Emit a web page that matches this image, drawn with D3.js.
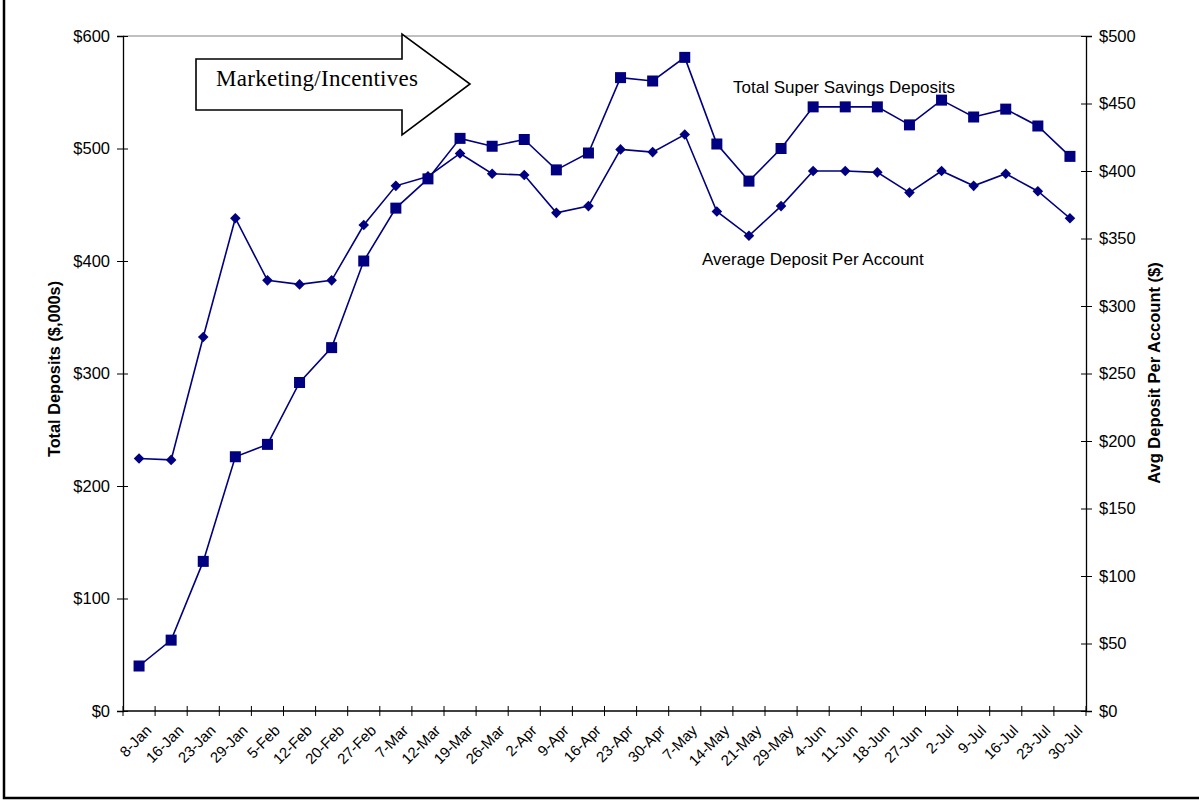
<!DOCTYPE html>
<html>
<head>
<meta charset="utf-8">
<script src="https://cdn.jsdelivr.net/npm/d3@7"></script>
<style>
  body { margin: 0; background: #fff; }
  svg { display: block; }
  .tick text { font-family: "Liberation Sans", Arial, sans-serif; }
</style>
</head>
<body>
<div id="chart"></div>
<script>
// weekly dates
var weeks = ["8-Jan", "16-Jan", "23-Jan", "29-Jan", "5-Feb", "12-Feb", "20-Feb", "27-Feb",
    "7-Mar", "12-Mar", "19-Mar", "26-Mar", "2-Apr", "9-Apr", "16-Apr", "23-Apr", "30-Apr",
    "7-May", "14-May", "21-May", "29-May", "4-Jun", "11-Jun", "18-Jun", "27-Jun", "2-Jul",
    "9-Jul", "16-Jul", "23-Jul", "30-Jul"];

// Total Super Savings Deposits ($,000s) - left axis
var totalDeposits = [40, 63, 133, 226, 237, 292, 323, 400, 447, 473, 509, 502, 508, 481,
    496, 563, 560, 581, 504, 471, 500, 537, 537, 537, 521, 543, 528, 535, 520, 493];

// Average Deposit Per Account ($) - right axis
var avgDeposit = [187, 186, 277, 365, 319, 316, 319, 360, 389, 396, 413, 398, 397, 369,
    374, 416, 414, 427, 370, 352, 374, 400, 400, 399, 384, 400, 389, 398, 385, 365];

var leftTicks = [0, 100, 200, 300, 400, 500, 600];
var rightTicks = [0, 50, 100, 150, 200, 250, 300, 350, 400, 450, 500];

var W = 1199, H = 804;
var margin = { top: 36, right: 113, bottom: 93, left: 123 },
    width = W - margin.left - margin.right,
    height = H - margin.top - margin.bottom;

var navy = "#000080";
var sans = "'Liberation Sans', Arial, sans-serif";

var svg = d3.select("#chart")
    .append("svg")
    .attr("width", W)
    .attr("height", H);

// outer frame
svg.append("rect")
    .attr("x", 4).attr("y", -4)
    .attr("width", W + 4).attr("height", 802)
    .attr("fill", "none")
    .attr("stroke", "#000")
    .attr("stroke-width", 2.5);

var g = svg.append("g")
    .attr("transform", "translate(" + margin.left + "," + margin.top + ")");

var x = d3.scaleBand()
    .domain(weeks)
    .range([0, width])
    .padding(0);

var yL = d3.scaleLinear().domain([0, 600]).range([height, 0]);
var yR = d3.scaleLinear().domain([0, 500]).range([height, 0]);

// top border of plot area
g.append("line")
    .attr("x1", 0).attr("x2", width)
    .attr("y1", 0).attr("y2", 0)
    .attr("stroke", "#808080");

// left axis
var axL = g.append("g")
    .call(d3.axisLeft(yL).tickValues(leftTicks).tickSize(6).tickPadding(7)
        .tickFormat(function (d) { return "$" + d; }));
axL.selectAll(".tick line").attr("x2", -6).attr("x1", 5);
// right axis
var axR = g.append("g")
    .attr("transform", "translate(" + width + ",0)")
    .call(d3.axisRight(yR).tickValues(rightTicks).tickSize(6).tickPadding(7)
        .tickFormat(function (d) { return "$" + d; }));
axR.selectAll(".tick line").attr("x1", -5).attr("x2", 6);

[axL, axR].forEach(function (ax) {
    ax.select(".domain").attr("stroke", "#000").attr("stroke-width", 1.3);
    ax.selectAll(".tick line").attr("stroke", "#000");
    ax.selectAll(".tick text").attr("font-size", 16.5).attr("fill", "#000");
});

// bottom axis: ticks at band boundaries, labels at centres
var axB = g.append("g").attr("transform", "translate(0," + height + ")");
axB.append("line")
    .attr("x1", 0).attr("x2", width)
    .attr("stroke", "#000").attr("stroke-width", 1.3);
var bounds = weeks.map(function (d) { return x(d); }).concat([width]);
axB.selectAll("line.tk")
    .data(bounds)
    .enter()
    .append("line")
    .attr("class", "tk")
    .attr("x1", function (d) { return d; })
    .attr("x2", function (d) { return d; })
    .attr("y1", -5).attr("y2", 5)
    .attr("stroke", "#000");
axB.selectAll("text")
    .data(weeks)
    .enter()
    .append("text")
    .attr("transform", function (d) {
        return "translate(" + (x(d) + x.bandwidth() / 2 + 6) + ",13)rotate(-45)";
    })
    .attr("text-anchor", "end")
    .attr("dy", "0.7em")
    .attr("font-family", sans)
    .attr("font-size", 15)
    .text(function (d) { return d; });

// axis titles
svg.append("text")
    .attr("transform", "translate(60,369)rotate(-90)")
    .attr("text-anchor", "middle")
    .attr("font-family", sans)
    .attr("font-weight", "bold")
    .attr("font-size", 16.3)
    .text("Total Deposits ($,000s)");
svg.append("text")
    .attr("transform", "translate(1160,373)rotate(-90)")
    .attr("text-anchor", "middle")
    .attr("font-family", sans)
    .attr("font-weight", "bold")
    .attr("font-size", 16.5)
    .text("Avg Deposit Per Account ($)");

var cx = function (d, i) { return x(weeks[i]) + x.bandwidth() / 2; };

// average deposit line (diamonds)
g.append("path")
    .datum(avgDeposit)
    .attr("fill", "none")
    .attr("stroke", navy)
    .attr("stroke-width", 1.6)
    .attr("d", d3.line().x(cx).y(function (d) { return yR(d); }));
g.append("g")
    .selectAll("path")
    .data(avgDeposit)
    .enter()
    .append("path")
    .attr("d", d3.symbol().type(d3.symbolSquare).size(56))
    .attr("transform", function (d, i) {
        return "translate(" + cx(d, i) + "," + yR(d) + ")rotate(45)";
    })
    .attr("fill", navy);

// total deposits line (squares)
g.append("path")
    .datum(totalDeposits)
    .attr("fill", "none")
    .attr("stroke", navy)
    .attr("stroke-width", 1.6)
    .attr("d", d3.line().x(cx).y(function (d) { return yL(d); }));
g.append("g")
    .selectAll("rect")
    .data(totalDeposits)
    .enter()
    .append("rect")
    .attr("x", function (d, i) { return cx(d, i) - 5.5; })
    .attr("y", function (d) { return yL(d) - 5.5; })
    .attr("width", 11)
    .attr("height", 11)
    .attr("fill", navy);

// series labels
svg.append("text")
    .attr("x", 733).attr("y", 93)
    .attr("font-family", sans).attr("font-size", 17)
    .text("Total Super Savings Deposits");
svg.append("text")
    .attr("x", 702).attr("y", 265)
    .attr("font-family", sans).attr("font-size", 17)
    .text("Average Deposit Per Account");

// marketing arrow
var arrow = [[196, 59], [402, 59], [402, 34], [470, 84], [402, 135], [402, 110], [196, 110]];
svg.append("path")
    .attr("d", d3.line()(arrow) + "Z")
    .attr("fill", "#fff")
    .attr("stroke", "#000")
    .attr("stroke-width", 1.6);
svg.append("text")
    .attr("x", 216).attr("y", 86)
    .attr("font-family", "'Liberation Serif', 'Times New Roman', serif")
    .attr("font-size", 23)
    .attr("textLength", 202)
    .text("Marketing/Incentives");
</script>
</body>
</html>
